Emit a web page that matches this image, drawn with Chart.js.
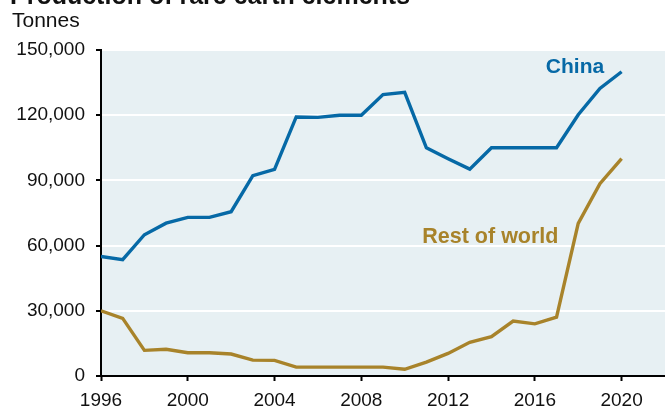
<!DOCTYPE html>
<html>
<head>
<meta charset="utf-8">
<script src="https://cdn.jsdelivr.net/npm/chart.js@4/dist/chart.umd.min.js"></script>
<style>
  html,body{margin:0;padding:0;background:#fff;overflow:hidden;}
  #wrap{position:relative;width:665px;height:406px;font-family:"Liberation Sans",Arial,sans-serif;}
  #title{position:absolute;left:10px;top:-17px;font-size:25px;line-height:25px;font-weight:bold;color:#111;white-space:nowrap;}
  #unit{position:absolute;left:12px;top:10px;font-size:20px;line-height:20px;color:#111;transform:scaleX(1.05);transform-origin:left top;}
  canvas{position:absolute;left:0;top:0;}
</style>
</head>
<body>
<div id="wrap">
  <canvas id="c" width="665" height="406"></canvas>
  <div id="title">Production of rare earth elements</div>
  <div id="unit">Tonnes</div>
</div>
<script>
const years = [1996,1997,1998,1999,2000,2001,2002,2003,2004,2005,2006,2007,2008,2009,2010,2011,2012,2013,2014,2015,2016,2017,2018,2019,2020];
const china = [55000,53500,65000,70300,73000,73000,75600,92200,95100,119200,119000,120000,120000,129500,130500,105000,100000,95200,105000,105000,105000,105000,120200,132300,140000];
const restOfWorld = [30000,26500,11800,12300,10700,10700,10100,7300,7200,4100,4100,4100,4100,4100,3100,6400,10400,15500,18100,25300,24000,27100,70200,88500,100000];
const yTicks = [0,30000,60000,90000,120000,150000];
const xTicks = [1996,2000,2004,2008,2012,2016,2020];

const BLUE = '#0669a6', GOLD = '#a8832a', BG = '#e7f0f3';
const FONT = '"Liberation Sans", Arial, sans-serif';

const panelBg = {
  id: 'panelBg',
  beforeDraw(chart){
    const a = chart.chartArea, ctx = chart.ctx;
    ctx.save(); ctx.fillStyle = BG;
    ctx.fillRect(a.left, a.top, a.right - a.left, a.bottom - a.top);
    ctx.restore();
  }
};
const seriesLabels = {
  id: 'seriesLabels',
  afterDatasetsDraw(chart){
    const ctx = chart.ctx, x = chart.scales.x, y = chart.scales.y;
    ctx.save();
    ctx.font = 'bold 21px ' + FONT;
    ctx.textAlign = 'center'; ctx.textBaseline = 'middle';
    ctx.fillStyle = BLUE;
    ctx.fillText('China', x.getPixelForValue(2017.85), y.getPixelForValue(142000));
    ctx.fillStyle = GOLD;
    ctx.font = 'bold 21.5px ' + FONT;
    ctx.fillText('Rest of world', x.getPixelForValue(2013.95), y.getPixelForValue(64000));
    ctx.restore();
  }
};

const toPts = arr => arr.map((v,i)=>({x: years[i], y: v}));

new Chart(document.getElementById('c').getContext('2d'), {
  type: 'line',
  data: { datasets: [
    { label: 'China', data: toPts(china), borderColor: BLUE, borderWidth: 3.4, pointRadius: 0, tension: 0, fill: false },
    { label: 'Rest of world', data: toPts(restOfWorld), borderColor: GOLD, borderWidth: 3.4, pointRadius: 0, tension: 0, fill: false }
  ]},
  options: {
    responsive: false, animation: false, devicePixelRatio: 1,
    layout: { padding: { top: 50, left: 0, right: 0, bottom: 0 } },
    plugins: { legend: { display: false }, title: { display: false }, tooltip: { enabled: false } },
    scales: {
      x: {
        type: 'linear', min: 1996, max: 2022,
        afterBuildTicks: s => { s.ticks = xTicks.map(v=>({value: v})); },
        afterFit: s => { s.height = 30; },
        grid: { drawOnChartArea: false, tickLength: 5, tickColor: '#000', tickWidth: 2 },
        border: { color: '#000', width: 2 },
        ticks: { color: '#111', font: { family: FONT, size: 19, lineHeight: 1 }, padding: 10, maxRotation: 0, autoSkip: false,
                 callback: v => String(v) }
      },
      y: {
        min: 0, max: 150000,
        afterBuildTicks: s => { s.ticks = yTicks.map(v=>({value: v})); },
        afterFit: s => { s.width = 101; },
        grid: { color: '#ffffff', lineWidth: 2, tickLength: 5, tickColor: '#000', tickWidth: 2 },
        border: { color: '#000', width: 2 },
        ticks: { color: '#111', font: { family: FONT, size: 19 }, padding: 11,
                 callback: v => v.toLocaleString('en-US') }
      }
    }
  },
  plugins: [panelBg, seriesLabels]
});
</script>
</body>
</html>
